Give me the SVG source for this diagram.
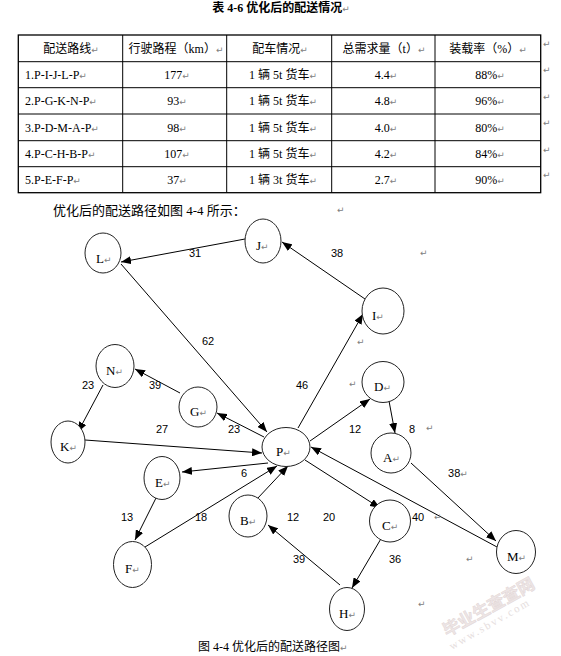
<svg xmlns="http://www.w3.org/2000/svg" width="561" height="656" viewBox="0 0 561 656">
<defs>
<marker id="ah" markerWidth="10" markerHeight="8" refX="10" refY="4" orient="auto" markerUnits="userSpaceOnUse"><path d="M0,0 L10,4 L0,8 z" fill="#000"/></marker>
<style>
.cn{font-family:"Liberation Serif","Noto Sans CJK SC",serif;font-size:12px;fill:#000}
.tx{font-family:"Liberation Serif","Noto Sans CJK SC",serif;font-size:12px;fill:#000}
.m{font-family:"DejaVu Sans",sans-serif;font-size:9px;fill:#808080}
.nd{fill:#fff;stroke:#222;stroke-width:1}
.nl{font-family:"Liberation Serif",serif;font-size:13px;fill:#000}
.el{font-family:"Liberation Sans",sans-serif;font-size:11px;fill:#000;text-anchor:middle}
.ed{stroke:#000;stroke-width:1;fill:none;marker-end:url(#ah)}
.tb{stroke:#000;stroke-width:1.3;fill:none}
.wm{font-family:"Noto Sans CJK SC",sans-serif;font-weight:bold;fill:#eee6e6;stroke:#e2d6d6;stroke-width:0.5}
.wm2{font-family:"Liberation Serif",serif;fill:#e6dede}
</style>
</defs>
<rect width="561" height="656" fill="#fff"/>

<!-- title -->
<text class="cn" x="281" y="12" text-anchor="middle" font-weight="bold">表 4-6 优化后的配送情况<tspan class="m" font-weight="normal">↵</tspan></text>

<!-- table -->
<g id="table">
<rect class="tb" x="18.3" y="35" width="522.4" height="157.7"/>
<g stroke="#000" stroke-width="1">
<line x1="122.7" y1="35" x2="122.7" y2="192.7"/>
<line x1="226.7" y1="35" x2="226.7" y2="192.7"/>
<line x1="331.7" y1="35" x2="331.7" y2="192.7"/>
<line x1="435" y1="35" x2="435" y2="192.7"/>
<line x1="18.3" y1="61.7" x2="540.7" y2="61.7"/>
<line x1="18.3" y1="87.7" x2="540.7" y2="87.7"/>
<line x1="18.3" y1="114" x2="540.7" y2="114"/>
<line x1="18.3" y1="140.7" x2="540.7" y2="140.7"/>
<line x1="18.3" y1="166.7" x2="540.7" y2="166.7"/>
</g>
<g text-anchor="middle">
<text class="cn" x="71" y="53">配送路线<tspan class="m">↵</tspan></text>
<text class="cn" x="176" y="53">行驶路程（km）<tspan class="m">↵</tspan></text>
<text class="cn" x="280" y="53">配车情况<tspan class="m">↵</tspan></text>
<text class="cn" x="384" y="53">总需求量（t）<tspan class="m">↵</tspan></text>
<text class="cn" x="488" y="53">装载率（%）<tspan class="m">↵</tspan></text>
</g>
<g>
<text class="tx" x="25" y="79">1.P-I-J-L-P<tspan class="m">↵</tspan></text>
<text class="tx" x="25" y="105">2.P-G-K-N-P<tspan class="m">↵</tspan></text>
<text class="tx" x="25" y="131.5">3.P-D-M-A-P<tspan class="m">↵</tspan></text>
<text class="tx" x="25" y="158">4.P-C-H-B-P<tspan class="m">↵</tspan></text>
<text class="tx" x="25" y="184">5.P-E-F-P<tspan class="m">↵</tspan></text>
</g>
<g text-anchor="middle">
<text class="tx" x="177" y="79">177<tspan class="m">↵</tspan></text>
<text class="tx" x="177" y="105">93<tspan class="m">↵</tspan></text>
<text class="tx" x="177" y="131.5">98<tspan class="m">↵</tspan></text>
<text class="tx" x="177" y="158">107<tspan class="m">↵</tspan></text>
<text class="tx" x="177" y="184">37<tspan class="m">↵</tspan></text>
<text class="cn" x="283" y="79">1 辆 5t 货车<tspan class="m">↵</tspan></text>
<text class="cn" x="283" y="105">1 辆 5t 货车<tspan class="m">↵</tspan></text>
<text class="cn" x="283" y="131.5">1 辆 5t 货车<tspan class="m">↵</tspan></text>
<text class="cn" x="283" y="158">1 辆 5t 货车<tspan class="m">↵</tspan></text>
<text class="cn" x="283" y="184">1 辆 3t 货车<tspan class="m">↵</tspan></text>
<text class="tx" x="386" y="79">4.4<tspan class="m">↵</tspan></text>
<text class="tx" x="386" y="105">4.8<tspan class="m">↵</tspan></text>
<text class="tx" x="386" y="131.5">4.0<tspan class="m">↵</tspan></text>
<text class="tx" x="386" y="158">4.2<tspan class="m">↵</tspan></text>
<text class="tx" x="386" y="184">2.7<tspan class="m">↵</tspan></text>
<text class="tx" x="490" y="79">88%<tspan class="m">↵</tspan></text>
<text class="tx" x="490" y="105">96%<tspan class="m">↵</tspan></text>
<text class="tx" x="490" y="131.5">80%<tspan class="m">↵</tspan></text>
<text class="tx" x="490" y="158">84%<tspan class="m">↵</tspan></text>
<text class="tx" x="490" y="184">90%<tspan class="m">↵</tspan></text>
</g>
<g class="m">
<text x="543" y="47">↵</text>
<text x="543" y="73">↵</text>
<text x="543" y="100">↵</text>
<text x="543" y="126">↵</text>
<text x="543" y="153">↵</text>
<text x="543" y="178">↵</text>
</g>
</g>

<text class="cn" x="53" y="214.5" style="font-size:13px">优化后的配送路径如图 4-4 所示：</text>
<text class="m" x="337" y="213">↵</text>

<!-- connectors -->
<g id="connectors">
<line class="ed" x1="245" y1="239" x2="121" y2="262"/>
<line class="ed" x1="365" y1="299" x2="282" y2="242"/>
<line class="ed" x1="298" y1="428" x2="363" y2="314"/>
<line class="ed" x1="121" y1="264" x2="267" y2="432"/>
<line class="ed" x1="264" y1="437" x2="217" y2="413"/>
<line class="ed" x1="180" y1="393" x2="135" y2="369"/>
<line class="ed" x1="103" y1="385" x2="78" y2="432"/>
<line class="ed" x1="85" y1="440" x2="262" y2="453"/>
<line class="ed" x1="310" y1="441" x2="370" y2="399"/>
<line class="ed" x1="389" y1="401" x2="395" y2="433"/>
<line class="ed" x1="411" y1="463" x2="496" y2="541"/>
<line class="ed" x1="497" y1="547" x2="311" y2="447"/>
<line class="ed" x1="305" y1="460" x2="380" y2="508"/>
<line class="ed" x1="382" y1="537" x2="352" y2="588"/>
<line class="ed" x1="340" y1="585" x2="268" y2="525"/>
<line class="ed" x1="257" y1="499" x2="288" y2="466"/>
<line class="ed" x1="268" y1="463" x2="182" y2="472"/>
<line class="ed" x1="156" y1="498" x2="135" y2="540"/>
<line class="ed" x1="145" y1="547" x2="277" y2="466"/>
</g>

<!-- edge labels -->
<g id="edge-labels">
<text class="el" x="195" y="257">31</text>
<text class="el" x="337" y="257">38</text>
<text class="el" x="208" y="345">62</text>
<text class="el" x="88" y="389">23</text>
<text class="el" x="155" y="389">39</text>
<text class="el" x="302" y="389">46</text>
<text class="el" x="162" y="433">27</text>
<text class="el" x="234" y="433">23</text>
<text class="el" x="355" y="433">12</text>
<text class="el" x="412" y="433">8</text>
<text class="el" x="244" y="477">6</text>
<text class="el" x="458" y="477">38<tspan class="m">↵</tspan></text>
<text class="el" x="127" y="521">13</text>
<text class="el" x="201" y="521">18</text>
<text class="el" x="293" y="521">12</text>
<text class="el" x="329" y="521">20</text>
<text class="el" x="418" y="521">40</text>
<text class="el" x="299" y="563">39</text>
<text class="el" x="395" y="563">36</text>
</g>
<g class="m">
<text x="420" y="256">↵</text>
<text x="357" y="345">↵</text>
<text x="349" y="387">↵</text>
<text x="426" y="431">↵</text>
<text x="434" y="520">↵</text>
<text x="466" y="562">↵</text>
<text x="418" y="607">↵</text>
</g>

<!-- nodes -->
<g id="node-L"><ellipse class="nd" cx="103" cy="253" rx="18" ry="20"/><text class="nl" x="96" y="263">L<tspan class="m">↵</tspan></text></g>
<g id="node-J"><ellipse class="nd" cx="263" cy="241" rx="18" ry="22"/><text class="nl" x="256" y="250">J<tspan class="m">↵</tspan></text></g>
<g id="node-I"><ellipse class="nd" cx="383" cy="311" rx="21" ry="23"/><text class="nl" x="372" y="320">I<tspan class="m">↵</tspan></text></g>
<g id="node-N"><ellipse class="nd" cx="115" cy="366" rx="19" ry="21.5"/><text class="nl" x="106" y="375">N<tspan class="m">↵</tspan></text></g>
<g id="node-G"><ellipse class="nd" cx="198" cy="407" rx="19" ry="20"/><text class="nl" x="190" y="416">G<tspan class="m">↵</tspan></text></g>
<g id="node-K"><ellipse class="nd" cx="68" cy="442" rx="17" ry="21"/><text class="nl" x="60" y="451">K<tspan class="m">↵</tspan></text></g>
<g id="node-D"><ellipse class="nd" cx="383" cy="382" rx="21" ry="20.5"/><text class="nl" x="374" y="391">D<tspan class="m">↵</tspan></text></g>
<g id="node-A"><ellipse class="nd" cx="391" cy="453" rx="20" ry="20"/><text class="nl" x="383" y="462">A<tspan class="m">↵</tspan></text></g>
<g id="node-P"><ellipse class="nd" cx="286" cy="447" rx="24" ry="19.5"/><text class="nl" x="276" y="456">P<tspan class="m">↵</tspan></text></g>
<g id="node-E"><ellipse class="nd" cx="162" cy="478" rx="18" ry="21.5"/><text class="nl" x="155" y="487">E<tspan class="m">↵</tspan></text></g>
<g id="node-B"><ellipse class="nd" cx="248" cy="516" rx="19" ry="21"/><text class="nl" x="240" y="525">B<tspan class="m">↵</tspan></text></g>
<g id="node-C"><ellipse class="nd" cx="390" cy="521" rx="20.5" ry="21"/><text class="nl" x="382" y="530">C<tspan class="m">↵</tspan></text></g>
<g id="node-F"><ellipse class="nd" cx="132.5" cy="564.5" rx="19" ry="23"/><text class="nl" x="125" y="573">F<tspan class="m">↵</tspan></text></g>
<g id="node-M"><ellipse class="nd" cx="516" cy="552" rx="19.5" ry="21.5"/><text class="nl" x="507" y="561">M<tspan class="m">↵</tspan></text></g>
<g id="node-H"><ellipse class="nd" cx="347" cy="609" rx="17.5" ry="21.5"/><text class="nl" x="339" y="618">H<tspan class="m">↵</tspan></text></g>

<!-- caption -->
<text class="cn" x="198" y="651">图 4-4 优化后的配送路径图<tspan class="m">↵</tspan></text>

<!-- watermark -->
<text class="wm" x="0" y="0" font-size="17" transform="translate(447,637) rotate(-29)">毕业生查查网</text>
<text class="wm2" x="0" y="0" font-size="11" letter-spacing="2" transform="translate(452,650) rotate(-30)">www.sbvv.com</text>
</svg>
